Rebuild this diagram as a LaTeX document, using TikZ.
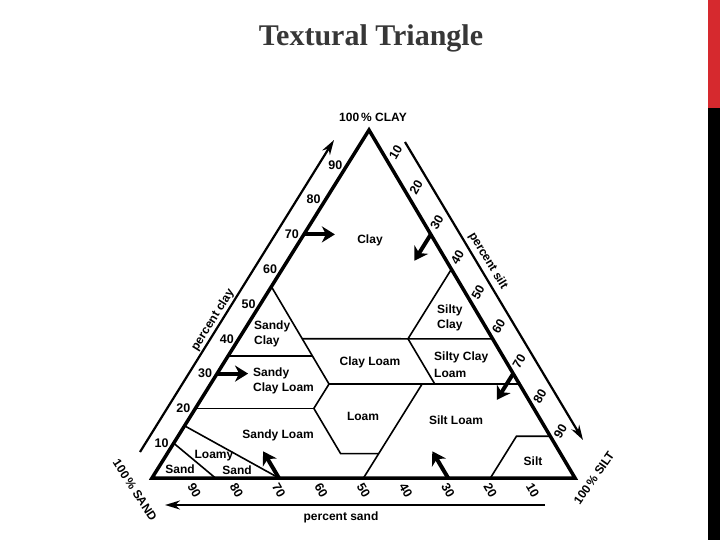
\documentclass[tikz,border=0pt]{standalone}
\usepackage{fontspec}
\setmainfont{Liberation Sans}
\newfontfamily\titlefont{Liberation Serif}
\usetikzlibrary{arrows.meta,calc}
\definecolor{barred}{RGB}{214,41,46}
\definecolor{titlegray}{RGB}{55,55,55}
\begin{document}
\begin{tikzpicture}[x=1pt,y=-1pt,
  lbl/.style={font=\bfseries\fontsize{12}{15}\selectfont, inner sep=0pt},
  num/.style={font=\bfseries\fontsize{12.5}{13}\selectfont, inner sep=0pt},
  edgeline/.style={line width=3.5pt, line join=miter},
  bound/.style={line width=1.6pt},
  guide/.style={line width=2.2pt, -{Stealth[length=15pt,width=9pt]}},
  bigarrow/.style={line width=4pt, -{Stealth[length=13pt,width=16pt,inset=4pt]}}]
\useasboundingbox (0,0) rectangle (720,540);
\fill[white] (0,0) rectangle (720,540);
\fill[barred] (708,0) rectangle (720,108);
\fill[black] (708,108) rectangle (720,540);
\node[font=\titlefont\bfseries\fontsize{30}{31}\selectfont, text=titlegray] (title) at (371,38) {Textural Triangle};

% vertices: A = 100% sand, B = 100% silt, C = 100% clay
\coordinate (A) at (152,478);
\coordinate (B) at (575,478);
\coordinate (C) at (369,130);

% class boundary points (clay, sand, silt) as fractions
\coordinate (scTop)  at (barycentric cs:C=0.55,A=0.45,B=0);
\coordinate (c40s45) at (barycentric cs:C=0.40,A=0.45,B=0.15);
\coordinate (c35s45) at (barycentric cs:C=0.35,A=0.45,B=0.20);
\coordinate (c27s45) at (barycentric cs:C=0.27,A=0.45,B=0.28);
\coordinate (c20s52) at (barycentric cs:C=0.20,A=0.52,B=0.28);
\coordinate (c7s52)  at (barycentric cs:C=0.07,A=0.52,B=0.41);
\coordinate (c7s43)  at (barycentric cs:C=0.07,A=0.43,B=0.50);
\coordinate (c0s50)  at (barycentric cs:C=0,A=0.50,B=0.50);
\coordinate (c27s23) at (barycentric cs:C=0.27,A=0.23,B=0.50);
\coordinate (c40s20) at (barycentric cs:C=0.40,A=0.20,B=0.40);
\coordinate (c60t40) at (barycentric cs:C=0.60,A=0,B=0.40);
\coordinate (c40t60) at (barycentric cs:C=0.40,A=0,B=0.60);
\coordinate (c27s20) at (barycentric cs:C=0.27,A=0.20,B=0.53);
\coordinate (c27t73) at (barycentric cs:C=0.27,A=0,B=0.73);
\coordinate (c35s65) at (barycentric cs:C=0.35,A=0.65,B=0);
\coordinate (c20s80) at (barycentric cs:C=0.20,A=0.80,B=0);
\coordinate (s20t80) at (barycentric cs:C=0,A=0.20,B=0.80);
\coordinate (c12t80) at (barycentric cs:C=0.12,A=0.08,B=0.80);
\coordinate (c12t88) at (barycentric cs:C=0.12,A=0,B=0.88);
\coordinate (s85)    at (barycentric cs:C=0,A=0.85,B=0.15);
\coordinate (c10s90) at (barycentric cs:C=0.10,A=0.90,B=0);
\coordinate (s70)    at (barycentric cs:C=0,A=0.70,B=0.30);
\coordinate (c15s85) at (barycentric cs:C=0.15,A=0.85,B=0);

% class boundaries
\draw[bound] (scTop) -- (c27s45) -- (c20s52) -- (c7s52) -- (c7s43);
\draw[bound] (c0s50) -- (c27s23);
\draw[bound] (c40s45) -- (c40t60);
\draw[bound] (c40s20) -- (c60t40);
\draw[bound] (c40s20) -- (c27s20);
\draw[bound] (c27s45) -- (c27t73);
\draw[bound] (c35s65) -- (c35s45);
\draw[bound] (c20s80) -- (c20s52);
\draw[bound] (s20t80) -- (c12t80) -- (c12t88);
\draw[bound] (s85) -- (c10s90);
\draw[bound] (s70) -- (c15s85);

% triangle
\draw[edgeline] (A) -- (B) -- (C) -- cycle;

% tick labels
\foreach \v in {10,20,...,90}{
  \node[num] (cl\v) at ($(A)!\v/100!(C)+(-12,0)$) {\v};
  \node[num, rotate=60] (si\v) at ($(C)!\v/100!(B)+(6,-12)$) {\v};
  \node[num, rotate=-60] (sa\v) at ($(B)!\v/100!(A)+(0,12)$) {\v};
}

% outer guide arrows
\coordinate (lo1) at (140,452); \coordinate (lo2) at (334,140);
\coordinate (ro1) at (405,142); \coordinate (ro2) at (583,440);
\coordinate (bo1) at (545,505); \coordinate (bo2) at (165,505);
\draw[guide] (lo1) -- (lo2);
\draw[guide] (ro1) -- (ro2);
\draw[guide] (bo1) -- (bo2);

% short reading arrows
\coordinate (a1s) at ($(A)!0.7!(C)$); \coordinate (a1e) at ($(a1s)+(31,0)$);
\coordinate (a2s) at ($(A)!0.3!(C)$); \coordinate (a2e) at ($(a2s)+(31,0)$);
\coordinate (a3s) at ($(C)!0.3!(B)$); \coordinate (a3e) at ($(a3s)+(-16.4,26.3)$);
\coordinate (a4s) at ($(C)!0.7!(B)$); \coordinate (a4e) at ($(a4s)+(-16.4,26.3)$);
\coordinate (a5s) at ($(B)!0.7!(A)$); \coordinate (a5e) at ($(a5s)+(-15.8,-26.7)$);
\coordinate (a6s) at ($(B)!0.3!(A)$); \coordinate (a6e) at ($(a6s)+(-15.8,-26.7)$);
\foreach \i in {1,...,6}{ \draw[bigarrow] (a\i s) -- (a\i e); }

% corner and axis labels
\node[lbl] (topc) at (373,117) {100\,\% CLAY};
\node[lbl, rotate=-57] (sandc) at (135,490) {100\,\% SAND};
\node[lbl, rotate=55] (siltc) at (594,478) {100\,\% SILT};
\node[lbl] (psand) at (341,517) {percent sand};
\node[lbl, rotate=58] (pclay) at (213,320) {percent clay};
\node[lbl, rotate=-59] (psilt) at (488,261) {percent silt};

% class names
\node[lbl] (nclay) at (370,240) {Clay};
\node[lbl, align=left, anchor=west] (nsc) at (254,334) {Sandy\\Clay};
\node[lbl, align=left, anchor=west] (nscl) at (253,381) {Sandy\\Clay Loam};
\node[lbl] (ncl) at (370,362) {Clay Loam};
\node[lbl] (nloam) at (363,416) {Loam};
\node[lbl] (nsl) at (278,435) {Sandy Loam};
\node[lbl] (nls1) at (214,456) {Loamy};
\node[lbl] (nls2) at (237,470) {Sand};
\node[lbl] (nsand) at (180,469) {Sand};
\node[lbl, align=left, anchor=west] (nsic) at (437,318) {Silty\\Clay};
\node[lbl, align=left, anchor=west, font=\bfseries\fontsize{12}{17}\selectfont] (nsicl) at (434,365) {Silty Clay\\Loam};
\node[lbl] (nsil) at (456,420) {Silt Loam};
\node[lbl] (nsilt) at (533,461) {Silt};
\end{tikzpicture}
\end{document}
